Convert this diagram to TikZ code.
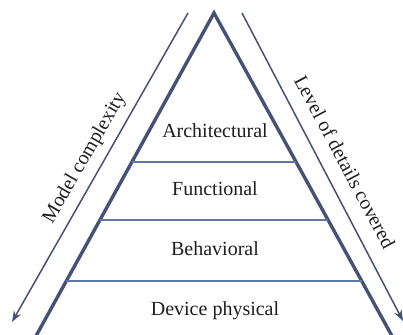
\documentclass[tikz,border=0pt]{standalone}
\usepackage{fontspec}
\setmainfont{Liberation Serif}
\usetikzlibrary{arrows.meta,calc}
\definecolor{edgeblue}{RGB}{68,82,120}
\definecolor{tierblue}{RGB}{96,118,165}
\definecolor{txt}{RGB}{30,30,30}
\tikzset{
  side/.style={draw=edgeblue,line width=3.4pt,line join=miter},
  tier/.style={draw=tierblue,line width=1.2pt},
  flow/.style={draw=edgeblue,line width=1.5pt,-{Stealth[length=11pt,width=8pt]}},
  lbl/.style={text=txt,font=\fontsize{20}{24}\selectfont,inner sep=0pt,anchor=base},
  sidelbl/.style={text=txt,font=\fontsize{20}{24}\selectfont,inner sep=0pt}
}
\begin{document}
\begin{tikzpicture}[x=1pt,y=-1pt]
\useasboundingbox (0,0) rectangle (403,334);
\coordinate (apex) at (214,13);
\coordinate (bl) at (36,336);
\coordinate (br) at (392,336);
\draw[side] (bl) -- (apex) -- (br);
% tier boundaries
\coordinate (l1) at ($(apex)!{(162-13)/323}!(bl)$);
\coordinate (r1) at ($(apex)!{(162-13)/323}!(br)$);
\coordinate (l2) at ($(apex)!{(220-13)/323}!(bl)$);
\coordinate (r2) at ($(apex)!{(220-13)/323}!(br)$);
\coordinate (l3) at ($(apex)!{(281-13)/323}!(bl)$);
\coordinate (r3) at ($(apex)!{(281-13)/323}!(br)$);
\draw[tier] (l1) -- (r1);
\draw[tier] (l2) -- (r2);
\draw[tier] (l3) -- (r3);
% tier labels
\node[lbl] (arch) at (215,137) {Architectural};
\node[lbl] (func) at (215,195) {Functional};
\node[lbl] (behav) at (215,255) {Behavioral};
\node[lbl] (dev) at (215,315) {Device physical};
% side arrows
\coordinate (la0) at (188,13);
\coordinate (la1) at (12,322);
\coordinate (ra0) at (242,13);
\coordinate (ra1) at (403,321);
\draw[flow] (la0) -- (la1);
\draw[flow] (ra0) -- (ra1);
\node[sidelbl,rotate=60] (mc) at (85,158) {Model complexity};
\node[sidelbl,rotate=-62] (ld) at (345,162) {Level of details covered};
\end{tikzpicture}
\end{document}
